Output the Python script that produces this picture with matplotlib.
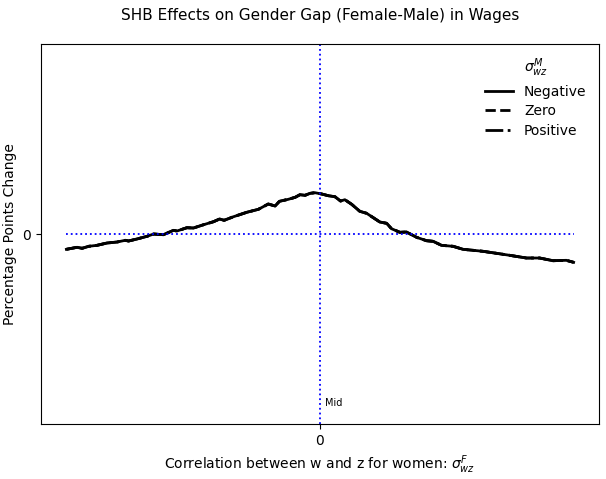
import numpy as np
import matplotlib.pyplot as plt

# correlation for women (x) and gap change (y)
sigma_f = [-1.0, -0.958, -0.938, -0.912, -0.879, -0.840, -0.800, -0.768, -0.755,
           -0.722, -0.682, -0.656, -0.617, -0.578, -0.564, -0.525, -0.499, -0.459,
           -0.420, -0.396, -0.378, -0.341, -0.289, -0.243, -0.204, -0.177, -0.160,
           -0.125, -0.098, -0.079, -0.059, -0.039, -0.020, 0.007, 0.033, 0.059,
           0.081, 0.098, 0.125, 0.157, 0.184, 0.236, 0.263, 0.282, 0.315, 0.341,
           0.381, 0.420, 0.446, 0.479, 0.525, 0.564, 0.604, 0.643, 0.696, 0.748,
           0.814, 0.866, 0.919, 0.971, 1.0]
gap = [-0.153, -0.133, -0.143, -0.123, -0.113, -0.090, -0.080, -0.063, -0.070,
       -0.050, -0.023, 0.000, -0.007, 0.037, 0.030, 0.063, 0.060, 0.093,
       0.123, 0.150, 0.137, 0.173, 0.217, 0.247, 0.300, 0.280, 0.327,
       0.347, 0.367, 0.393, 0.387, 0.407, 0.413, 0.400, 0.383, 0.373,
       0.330, 0.343, 0.297, 0.227, 0.207, 0.120, 0.107, 0.053, 0.017, 0.020,
       -0.033, -0.067, -0.073, -0.113, -0.123, -0.153, -0.163, -0.173, -0.193, -0.213,
       -0.240, -0.240, -0.267, -0.263, -0.283]

series = ['Negative', 'Zero', 'Positive']
styles = ['-', '--', '-.']

fig = plt.figure(figsize=(6.06, 4.79), dpi=100)
ax = fig.add_axes([0.0677, 0.1148, 0.9207, 0.7933])

for name, ls in zip(series, styles):
    ax.plot(sigma_f, gap, color='black', linestyle=ls, lw=2, label=name)

ax.plot([sigma_f[0], sigma_f[-1]], [0, 0], color='blue', linestyle=':', lw=1.3)
ax.axvline(0, color='blue', linestyle=':', lw=1.3)
ax.text(0.02, -1.72, 'Mid', fontsize=7)

ax.set_ylim(-1.9, 1.9)
ax.set_xticks([0])
ax.set_yticks([0])
ax.tick_params(labelsize=10)
ax.set_xlabel(r'Correlation between w and z for women: $\sigma^F_{wz}$', fontsize=10)
ax.set_ylabel('Percentage Points Change', fontsize=10)
ax.set_title('SHB Effects on Gender Gap (Female-Male) in Wages', fontsize=11, pad=17)
ax.legend(title=r'$\sigma^M_{wz}$', fontsize=10, title_fontsize=10, frameon=False,
          loc='upper right', labelspacing=0.4)

fig.savefig('out.png', dpi=100)
